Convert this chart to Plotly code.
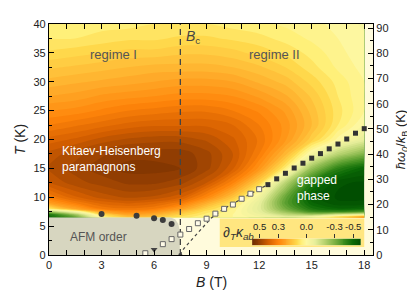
import plotly.graph_objects as go

# ---------------- data ----------------
B_grid = [0, 1.5, 3, 4.5, 6, 7.5, 9, 10.5, 12, 13.5, 15, 16.5, 18]
T_grid = [6.5, 7, 7.5, 8, 9, 10, 12.5, 15, 17.5, 20, 22.5, 25, 27.5, 30, 32.5, 35, 37.5, 40]
dk_rows = [
    [-0.50, -0.35, 0.00, 0.12, 0.12, 0.06, 0.03, 0.00, -0.04, -0.08, 0.00, 0.15, 0.30],
    [-0.48, -0.25, 0.08, 0.20, 0.18, 0.10, 0.04, 0.00, -0.07, -0.18, -0.24, -0.15, -0.08],
    [-0.25, -0.05, 0.20, 0.27, 0.24, 0.15, 0.06, 0.01, -0.10, -0.26, -0.40, -0.42, -0.38],
    [0.05, 0.20, 0.30, 0.32, 0.30, 0.22, 0.10, 0.02, -0.11, -0.32, -0.47, -0.52, -0.50],
    [0.22, 0.30, 0.36, 0.38, 0.36, 0.31, 0.18, 0.06, -0.10, -0.36, -0.52, -0.57, -0.57],
    [0.30, 0.37, 0.41, 0.43, 0.42, 0.38, 0.27, 0.13, -0.06, -0.34, -0.54, -0.58, -0.58],
    [0.40, 0.44, 0.46, 0.48, 0.48, 0.46, 0.40, 0.28, 0.10, -0.20, -0.46, -0.57, -0.58],
    [0.43, 0.46, 0.49, 0.51, 0.51, 0.50, 0.46, 0.38, 0.24, 0.04, -0.26, -0.44, -0.52],
    [0.41, 0.44, 0.47, 0.49, 0.49, 0.49, 0.46, 0.40, 0.30, 0.16, -0.04, -0.20, -0.30],
    [0.36, 0.38, 0.41, 0.43, 0.44, 0.44, 0.42, 0.38, 0.32, 0.23, 0.11, -0.01, -0.10],
    [0.30, 0.32, 0.34, 0.36, 0.37, 0.37, 0.37, 0.35, 0.30, 0.24, 0.15, 0.05, -0.03],
    [0.25, 0.26, 0.28, 0.30, 0.31, 0.32, 0.32, 0.30, 0.27, 0.22, 0.14, 0.06, 0.00],
    [0.20, 0.21, 0.23, 0.24, 0.25, 0.26, 0.26, 0.25, 0.22, 0.18, 0.12, 0.05, 0.00],
    [0.16, 0.17, 0.18, 0.19, 0.20, 0.21, 0.21, 0.20, 0.17, 0.14, 0.09, 0.04, 0.00],
    [0.12, 0.13, 0.14, 0.15, 0.16, 0.16, 0.16, 0.15, 0.13, 0.10, 0.06, 0.02, -0.01],
    [0.08, 0.09, 0.10, 0.11, 0.11, 0.12, 0.12, 0.11, 0.09, 0.07, 0.04, 0.01, -0.02],
    [0.05, 0.05, 0.06, 0.07, 0.07, 0.08, 0.08, 0.07, 0.06, 0.04, 0.02, 0.00, -0.02],
    [0.03, 0.03, 0.04, 0.04, 0.05, 0.05, 0.05, 0.04, 0.03, 0.02, 0.01, -0.01, -0.03],
]

Bc = 7.5

# AFM phase boundary (B, T)
afm_B = [0, 0, 6.95, 7.2, 7.38, 7.47, 7.47]
afm_T = [0, 6.5, 6.5, 6.2, 5.4, 4.1, 0]

# filled circles (B, T)
circ_B = [3.0, 5.0, 6.0, 6.5, 7.0]
circ_T = [7.1, 6.8, 6.35, 6.05, 5.35]

# filled squares (B, hbar*omega0/kB)
fsq_B = [12.5, 13.0, 13.5, 14.0, 14.5, 15.0, 15.5, 16.0, 16.5, 17.0, 17.5, 18.0]
fsq_W = [27.9, 30.2, 32.4, 34.5, 36.4, 38.4, 40.2, 42.1, 44.0, 46.0, 48.3, 50.1]

# open squares (B, hbar*omega0/kB)
osq_B = [5.5, 6.5, 7.0, 7.5, 8.0, 8.5, 9.0, 9.5, 10.0, 10.5, 11.0, 11.5, 12.0]
osq_W = [0.7, 4.3, 6.3, 8.1, 10.3, 12.6, 14.4, 16.4, 18.3, 20.0, 22.3, 24.3, 26.1]

# dotted fit curve (B, hbar*omega0/kB)
fit_B = [7.5, 7.6, 7.8, 8.0, 8.33, 8.75, 9.27, 9.75, 10.23, 11.0, 11.75, 12.5]
fit_W = [0.0, 1.6, 3.4, 5.0, 7.4, 10.7, 14.7, 17.2, 19.3, 22.4, 25.2, 27.9]

# triangle marker (B, T)
tri_B = [6.0]
tri_T = [0.95]

cb_ticks = [0.5, 0.3, 0.0, -0.3, -0.5]
cb_labels = ["0.5", "0.3", "0.0", "-0.3", "-0.5"]
zmin, zmax = -0.6, 0.6

W_max = 91.6  # right axis top (hbar*omega0/kB) matching T = 40 K

colorscale = [
    [0.0, "#004a00"],
    [0.0833, "#0b6a06"],
    [0.1667, "#3f8f1f"],
    [0.25, "#7db244"],
    [0.3333, "#b6d26f"],
    [0.4167, "#e6ee9a"],
    [0.5, "#fdf7a0"],
    [0.5417, "#fff07a"],
    [0.5833, "#ffd94c"],
    [0.6667, "#ffac2a"],
    [0.75, "#ff840a"],
    [0.8333, "#d66000"],
    [0.9167, "#964002"],
    [1.0, "#652800"],
]

FONT = "Liberation Sans, Arial, sans-serif"
INK = "#222222"

fig = go.Figure()

fig.add_trace(go.Contour(
    x=B_grid, y=T_grid, z=dk_rows,
    colorscale=colorscale, zmin=zmin, zmax=zmax,
    contours=dict(start=zmin, end=zmax, size=0.025, coloring="fill", showlines=False),
    line=dict(width=0), showscale=False, hoverinfo="skip",
    xaxis="x", yaxis="y",
))

fig.add_trace(go.Scatter(
    x=afm_B, y=afm_T, fill="toself", mode="lines",
    fillcolor="#d7d6c0", line=dict(width=0, color="#d7d6c0"),
    showlegend=False, hoverinfo="skip", xaxis="x", yaxis="y",
))

fig.add_trace(go.Scatter(
    x=[Bc, Bc], y=[0, 40], mode="lines",
    line=dict(color="#444444", width=1.3, dash="6px,4px"),
    showlegend=False, xaxis="x", yaxis="y",
))

fig.add_trace(go.Scatter(
    x=fit_B, y=fit_W, mode="lines",
    line=dict(color="#444444", width=1.2, dash="dot"),
    showlegend=False, xaxis="x", yaxis="y2",
))

fig.add_trace(go.Scatter(
    x=osq_B, y=osq_W, mode="markers",
    marker=dict(symbol="square", size=5, color="#fffbe8", line=dict(color="#666666", width=1)),
    showlegend=False, xaxis="x", yaxis="y2",
))

fig.add_trace(go.Scatter(
    x=fsq_B, y=fsq_W, mode="markers",
    marker=dict(symbol="square", size=5, color="#333333"),
    showlegend=False, xaxis="x", yaxis="y2",
))

fig.add_trace(go.Scatter(
    x=circ_B, y=circ_T, mode="markers",
    marker=dict(symbol="circle", size=6, color="#3c3c3c"),
    showlegend=False, xaxis="x", yaxis="y",
))

fig.add_trace(go.Scatter(
    x=tri_B, y=tri_T, mode="markers",
    marker=dict(symbol="triangle-down", size=6, color="#444444"),
    showlegend=False, xaxis="x", yaxis="y",
))

fig.add_trace(go.Scatter(
    x=[Bc], y=[0], mode="markers",
    marker=dict(symbol="circle", size=4, color="#444444"),
    showlegend=False, xaxis="x", yaxis="y",
))

# colour bar drawn as a small heatmap on its own axes
n = 117
cb_vals = [zmax - (zmax - zmin) * i / (n - 1) for i in range(n)]
fig.add_trace(go.Heatmap(
    x=cb_vals, y=[0], z=[cb_vals], colorscale=colorscale, zmin=zmin, zmax=zmax,
    showscale=False, hoverinfo="skip", xaxis="x3", yaxis="y3",
))

axis_common = dict(
    showline=True, linecolor="black", linewidth=1.3,
    ticks="inside", tickcolor="black", tickwidth=1.2,
    tickfont=dict(family=FONT, size=11, color=INK),
    showgrid=False, zeroline=False, automargin=False,
)

fig.update_layout(
    template="none",
    width=415, height=290,
    margin=dict(l=41, r=50, t=16, b=43, autoexpand=False),
    paper_bgcolor="white",
    plot_bgcolor="#fffbdc",
    font=dict(family=FONT, color=INK),
    showlegend=False,
    xaxis=dict(
        range=[0, 18.5], tickvals=[0, 3, 6, 9, 12, 15, 18], ticklen=5,
        minor=dict(dtick=1, ticks="inside", ticklen=3, tickcolor="black", tickwidth=1),
        mirror="allticks",
        **axis_common,
    ),
    yaxis=dict(
        range=[0, 40], tickvals=[0, 5, 10, 15, 20, 25, 30, 35, 40], ticklen=5,
        minor=dict(dtick=2.5, ticks="inside", ticklen=3, tickcolor="black", tickwidth=1),
        mirror=True,
        title=dict(text="<i>T</i> (K)", font=dict(family=FONT, size=14, color=INK), standoff=4),
        **axis_common,
    ),
    yaxis2=dict(
        range=[0, W_max], overlaying="y", side="right", anchor="x",
        tickvals=[0, 10, 20, 30, 40, 50, 60, 70, 80, 90], ticklen=5,
        minor=dict(dtick=5, ticks="inside", ticklen=3, tickcolor="black", tickwidth=1),
        title=dict(text="<i>ħω</i><sub><i>0</i></sub>/<i>k</i><sub>B</sub> (K)",
                   font=dict(family=FONT, size=13, color=INK), standoff=8),
        **axis_common,
    ),
    xaxis3=dict(
        domain=[0.627, 0.962], anchor="y3", range=[0.58, -0.58], side="top",
        tickvals=cb_ticks, ticktext=cb_labels, ticks="outside", ticklen=4,
        tickangle=0, tickcolor="#333333", tickwidth=1,
        tickfont=dict(family=FONT, size=9.5, color=INK),
        showline=False, showgrid=False, zeroline=False, automargin=False,
    ),
    yaxis3=dict(
        domain=[0.042, 0.071], anchor="x3", range=[-0.5, 0.5],
        visible=False, showgrid=False, zeroline=False, automargin=False,
    ),
    shapes=[
        dict(type="rect", xref="x", yref="y", x0=9.75, x1=18.0, y0=1.4, y1=6.3,
             fillcolor="#ffe680", line=dict(width=0), layer="below"),
    ],
    annotations=[
        dict(x=0.5, y=-0.117, xref="paper", yref="paper", text="<i>B</i> (T)",
             showarrow=False, yanchor="middle",
             font=dict(family=FONT, size=14, color=INK)),
        dict(x=3.7, y=34.8, xref="x", yref="y", text="regime I", showarrow=False,
             font=dict(family=FONT, size=13, color="#555555")),
        dict(x=12.9, y=34.7, xref="x", yref="y", text="regime II", showarrow=False,
             font=dict(family=FONT, size=13, color="#555555")),
        dict(x=7.68, y=37.8, xref="x", yref="y", text="<i>B</i><sub>c</sub>", showarrow=False,
             xanchor="left", font=dict(family=FONT, size=14, color="#444444")),
        dict(x=0.65, y=16.7, xref="x", yref="y", text="Kitaev-Heisenberg<br>paramagnons",
             showarrow=False, xanchor="left", align="left",
             font=dict(family=FONT, size=12, color="white")),
        dict(x=14.05, y=11.6, xref="x", yref="y", text="gapped<br>phase",
             showarrow=False, xanchor="left", align="left",
             font=dict(family=FONT, size=12, color="white")),
        dict(x=2.85, y=3.1, xref="x", yref="y", text="AFM order", showarrow=False,
             font=dict(family=FONT, size=12, color="#555555")),
        dict(x=9.8, y=3.8, xref="x", yref="y",
             text="∂<sub><i>T</i></sub><i>κ</i><sub><i>ab</i></sub>", showarrow=False,
             xanchor="left", font=dict(family=FONT, size=14, color="#333333")),
    ],
)

fig.write_html("out.html")
